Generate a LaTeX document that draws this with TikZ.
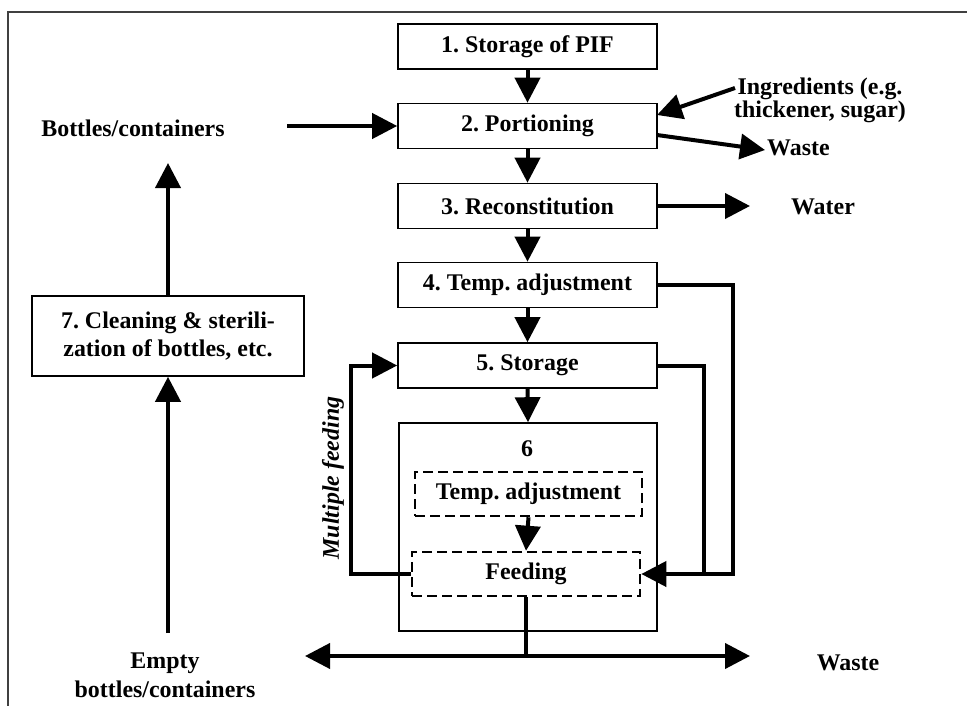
\documentclass[tikz,border=0pt]{standalone}
\usepackage{fontspec}
\setmainfont{Liberation Serif}
\usetikzlibrary{arrows.meta}
\frenchspacing
\begin{document}
\begin{tikzpicture}[x=1bp,y=-1bp,
  txt/.style={font=\fontsize{24}{28}\selectfont\bfseries,inner sep=0pt,align=center},
  box/.style={txt,draw,line width=1.6bp,minimum width=259bp,minimum height=45bp},
  dbox/.style={txt,draw,line width=2.6bp,dash pattern=on 10bp off 5bp,minimum width=228bp,minimum height=44bp},
  arr/.style={line width=4bp,-{Triangle[length=25bp,width=25bp]}},
  ln/.style={line width=4bp},
  frame/.style={draw=black!75,line width=1.8bp}]
\useasboundingbox (0,0) rectangle (967,706);
\draw[frame] (8,706) -- (8,12) -- (967,12);
% main column
\node[box] (b1) at (527.5,46.5) {1. Storage of PIF};
\node[box] (b2) at (527.5,126) {2. Portioning};
\node[box] (b3) at (527.5,206) {3. Reconstitution};
\node[box] (b4) at (527.5,285) {4. Temp. adjustment};
\node[box] (b5) at (527.5,365.5) {5. Storage};
\node[box,minimum height=208bp,minimum width=258bp] (b6) at (528,527) {};
\node[txt] (six) at (527,449) {6};
\node[dbox,minimum width=227bp] (ta) at (528.5,494) {Temp. adjustment};
\node[dbox] (feed) at (526,574) {Feeding};
\node[box,minimum width=272bp,minimum height=80bp] (b7) at (168,336) {7. Cleaning \& sterili-\\zation of bottles, etc.};
% vertical flow arrows
\draw[arr] (b1.south) -- (b2.north);
\draw[arr] (b2.south) -- (b3.north);
\draw[arr] (b3.south) -- (b4.north);
\draw[arr] (b4.south) -- (b5.north);
\draw[arr] (b5.south) -- (b6.north);
\draw[arr] (ta.south) -- (feed.north);
% labels
\node[txt] (bottles) at (133,128) {Bottles/containers};
\node[txt,font=\fontsize{24}{23}\selectfont\bfseries] (ingr) at (820,100.5) {Ingredients (e.g.\\thickener, sugar)};
\node[txt,anchor=west] (waste1) at (767,148) {Waste};
\node[txt] (water) at (823,207) {Water};
\node[txt] (waste2) at (848,663) {Waste};
\node[txt,font=\fontsize{24}{29}\selectfont\bfseries] (empty) at (165,675) {Empty\\bottles/containers};
\node[txt,font=\fontsize{24}{28}\selectfont\bfseries\itshape,rotate=90] (multi) at (333,478) {Multiple feeding};
% side arrows
\coordinate (bstart) at (287,126);
\draw[arr] (bstart) -- (b2.west);
\coordinate (istart) at (735,88);
\coordinate (itip) at (657,115);
\draw[arr] (istart) -- (itip);
\coordinate (wstart) at (657,135);
\coordinate (wtip) at (765,150);
\draw[arr] (wstart) -- (wtip);
\coordinate (watip) at (750,206);
\draw[arr] (b3.east) -- (watip);
% loops
\coordinate (mfc) at (351,574);
\draw[arr] (feed.west) -- (mfc) |- (b5.west);
\coordinate (r5) at (704,574);
\draw[ln] (b5.east) -| (r5);
\coordinate (r4) at (733,285);
\draw[arr] (b4.east) -- (r4) |- (feed.east);
% bottom waste
\coordinate (j) at (526,656);
\coordinate (lt) at (305,656);
\coordinate (rt) at (750,656);
\draw[ln] (feed.south) -- (j);
\draw[arr] (j) -- (lt);
\draw[arr] (j) -- (rt);
% left column
\coordinate (b7tip) at (168,163);
\draw[arr] (b7.north) -- (b7tip);
\coordinate (b7start) at (168,633);
\draw[arr] (b7start) -- (b7.south);
\end{tikzpicture}
\end{document}
